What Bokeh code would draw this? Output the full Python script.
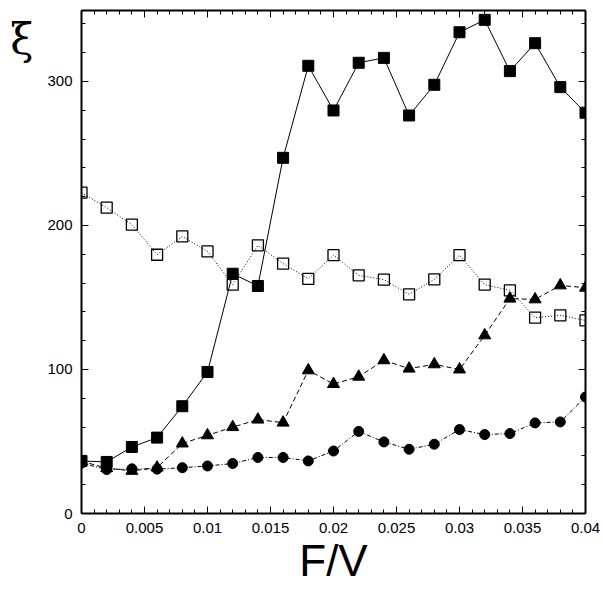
from bokeh.plotting import figure
from bokeh.models import Range1d, LinearAxis, FixedTicker, NumeralTickFormatter, ColumnDataSource
from bokeh.embed import file_html
from bokeh.resources import INLINE

# ---- data ----
x_vals = [0.0, 0.002, 0.004, 0.006, 0.008, 0.010, 0.012, 0.014, 0.016, 0.018, 0.020,
          0.022, 0.024, 0.026, 0.028, 0.030, 0.032, 0.034, 0.036, 0.038, 0.040]
filled_squares = [36.5, 35.8, 46.2, 52.7, 74.5, 98.3, 166.5, 158.0, 247.0, 310.9, 279.9,
                  313.0, 316.4, 276.4, 297.7, 334.2, 342.8, 307.2, 326.6, 296.1, 278.3]
open_squares = [222.8, 212.4, 200.6, 179.7, 192.4, 182.0, 158.9, 186.2, 173.5, 163.0, 179.4,
                165.4, 162.4, 152.2, 162.6, 179.4, 158.9, 155.0, 136.0, 137.6, 134.1]
triangles = [36.3, 31.5, 29.6, 31.9, 48.6, 54.3, 60.0, 65.2, 63.1, 99.4, 89.9,
             95.0, 106.4, 100.6, 103.6, 100.0, 123.7, 149.2, 148.7, 158.4, 156.8]
circles = [35.0, 30.5, 31.0, 30.8, 31.8, 33.0, 34.7, 38.9, 38.9, 36.5, 43.4,
           57.0, 49.7, 44.6, 48.1, 58.3, 54.8, 55.5, 62.9, 63.6, 80.9]

x_ticks = [0.0, 0.005, 0.01, 0.015, 0.02, 0.025, 0.03, 0.035, 0.04]
x_tick_labels = ["0", "0.005", "0.01", "0.015", "0.02", "0.025", "0.03", "0.035", "0.04"]
y_ticks = [0, 100, 200, 300]
y_tick_labels = ["0", "100", "200", "300"]
x_minor = [round(i * 0.001, 3) for i in range(41)]
y_minor = [i * 20 for i in range(18)]

x_label = "F/V"
y_label = "ξ"

src = ColumnDataSource(dict(x=x_vals, fs=filled_squares, os=open_squares, tr=triangles, ci=circles))

p = figure(width=603, height=589, x_range=Range1d(0, 0.04), y_range=Range1d(0, 349.3),
           output_backend="svg", toolbar_location=None,
           min_border_left=81, min_border_right=18, min_border_top=10, min_border_bottom=76)
p.grid.visible = False
p.outline_line_color = None
p.background_fill_color = "white"
p.border_fill_color = "white"

FONT = "Liberation Sans"

def style_axis(ax, show_labels):
    ax.axis_line_width = 2
    ax.axis_line_color = "black"
    ax.major_tick_in = 7
    ax.major_tick_out = 0
    ax.minor_tick_in = 4
    ax.minor_tick_out = 0
    ax.major_tick_line_width = 1
    ax.minor_tick_line_width = 1
    if show_labels:
        ax.major_label_text_font = FONT
        ax.major_label_text_font_size = "15px"
        ax.major_label_text_color = "black"
    else:
        ax.major_label_text_font_size = "0px"
        ax.major_label_standoff = 0
        ax.major_label_text_color = None

xb = p.xaxis[0]
xb.ticker = FixedTicker(ticks=x_ticks, minor_ticks=x_minor)
xb.formatter = NumeralTickFormatter(format="0.[000]")
xb.major_label_overrides = {t: s for t, s in zip(x_ticks, x_tick_labels)}
style_axis(xb, True)
xb.major_label_standoff = 9
xb.axis_label = x_label
xb.axis_label_text_font = FONT
xb.axis_label_text_font_size = "44px"
xb.axis_label_text_font_style = "normal"
xb.axis_label_text_color = "black"
xb.axis_label_standoff = 0

yl = p.yaxis[0]
yl.ticker = FixedTicker(ticks=y_ticks, minor_ticks=y_minor)
yl.major_label_overrides = {t: s for t, s in zip(y_ticks, y_tick_labels)}
style_axis(yl, True)
yl.major_label_standoff = 9
# leading empty line pushes the symbol below the top edge of the frame
yl.axis_label = "\n" + y_label
yl.axis_label_text_font = "DejaVu Serif"
yl.axis_label_text_font_size = "42px"
yl.axis_label_text_font_style = "normal"
yl.axis_label_text_color = "black"
yl.axis_label_standoff = 11
props = yl.properties()
if "axis_label_orientation" in props:
    yl.axis_label_orientation = "horizontal"
if "axis_label_align" in props:
    yl.axis_label_align = "end"

xt = LinearAxis(ticker=FixedTicker(ticks=x_ticks, minor_ticks=x_minor))
style_axis(xt, False)
p.add_layout(xt, "above")
yr = LinearAxis(ticker=FixedTicker(ticks=y_ticks, minor_ticks=y_minor))
style_axis(yr, False)
p.add_layout(yr, "right")

# series
p.line("x", "os", source=src, line_color="black", line_width=1, line_dash="1 2")
p.scatter("x", "os", source=src, marker="square", size=11, fill_color=None,
          line_color="black", line_width=1.3)

p.line("x", "fs", source=src, line_color="black", line_width=1)
p.scatter("x", "fs", source=src, marker="square", size=11, fill_color="black", line_color="black")

p.line("x", "tr", source=src, line_color="black", line_width=1, line_dash="5 3")
p.scatter("x", "tr", source=src, marker="triangle", size=12, fill_color="black", line_color="black")

p.line("x", "ci", source=src, line_color="black", line_width=1, line_dash="4 2 1 2")
p.scatter("x", "ci", source=src, marker="circle", size=10, fill_color="black", line_color="black")

open("out.html", "w").write(file_html(p, INLINE))
